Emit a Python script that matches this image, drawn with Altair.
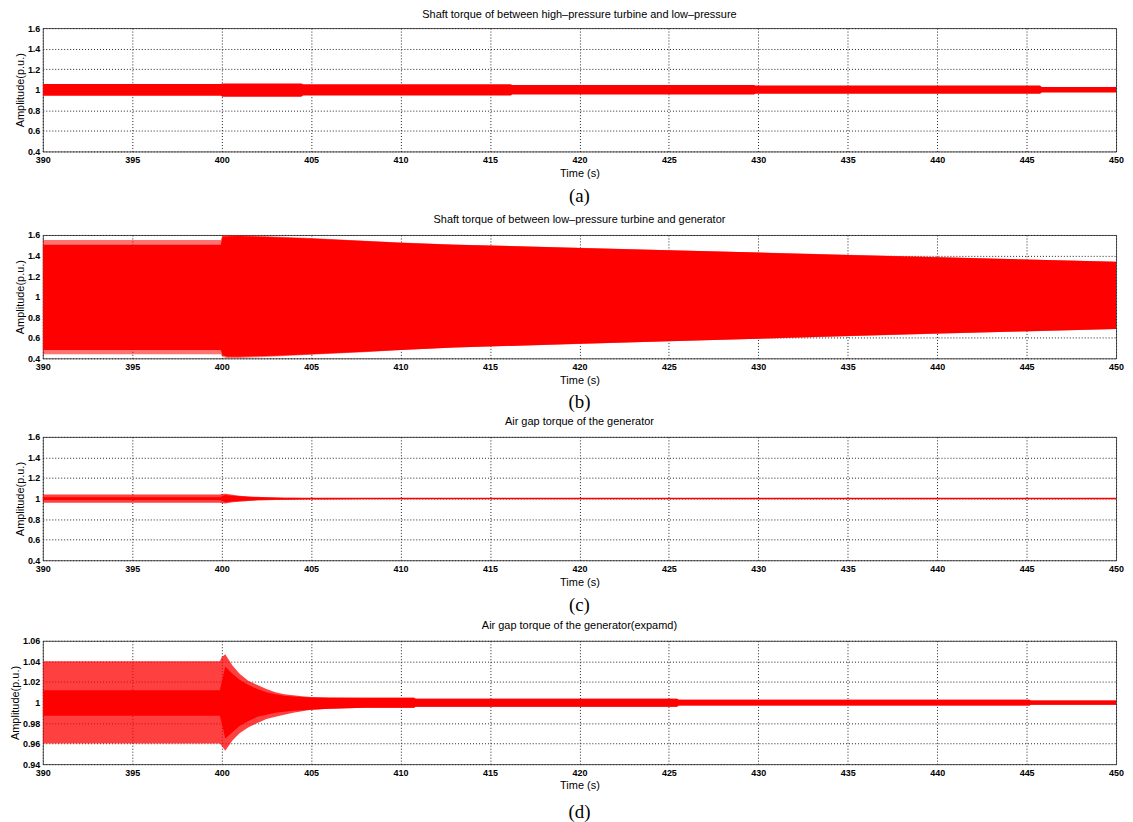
import altair as alt
import pandas as pd

RED = "#ff0000"
FONT = "Liberation Sans"

x_ticks = [390, 395, 400, 405, 410, 415, 420, 425, 430, 435, 440, 445, 450]
y_ticks_full = [0.4, 0.6, 0.8, 1.0, 1.2, 1.4, 1.6]
y_ticks_zoom = [0.94, 0.96, 0.98, 1.0, 1.02, 1.04, 1.06]

titles = [
    "Shaft torque of between high\u2013pressure turbine and low\u2013pressure",
    "Shaft torque of between low\u2013pressure turbine and generator",
    "Air gap torque of the generator",
    "Air gap torque of the generator(expamd)",
]
captions = ["(a)", "(b)", "(c)", "(d)"]

# (a) envelope of HP-LP shaft torque
a_t  = [390, 399.95, 400.05, 404.45, 404.55, 416.15, 416.25, 429.75, 429.85, 445.75, 445.85, 450]
a_hi = [1.055, 1.055, 1.061, 1.061, 1.053, 1.053, 1.047, 1.047, 1.042, 1.042, 1.028, 1.028]
a_lo = [0.942, 0.942, 0.932, 0.932, 0.945, 0.945, 0.953, 0.953, 0.962, 0.962, 0.974, 0.974]

# (b) envelope of LP-generator shaft torque (outer = ripple peaks, inner = ripple troughs)
b_t        = [390, 399.95, 400.05, 400.3, 401, 403, 405, 408, 410, 413, 420, 425, 430, 435, 440, 445, 450]
b_hi_outer = [1.550, 1.550, 1.600, 1.600, 1.600, 1.585, 1.570, 1.545, 1.528, 1.508, 1.475, 1.452, 1.430, 1.407, 1.385, 1.362, 1.340]
b_hi_inner = [1.505, 1.505, 1.585, 1.588, 1.590, 1.578, 1.565, 1.542, 1.525, 1.506, 1.474, 1.451, 1.429, 1.406, 1.384, 1.361, 1.339]
b_lo_outer = [0.440, 0.440, 0.415, 0.400, 0.403, 0.418, 0.435, 0.460, 0.480, 0.505, 0.540, 0.565, 0.590, 0.615, 0.640, 0.662, 0.685]
b_lo_inner = [0.482, 0.482, 0.430, 0.415, 0.415, 0.425, 0.440, 0.463, 0.482, 0.506, 0.541, 0.566, 0.591, 0.616, 0.641, 0.663, 0.686]

# (c)/(d) air gap torque envelope (outer = spike tips, core = dense part)
g_t        = [390, 399.9, 400.0, 400.2, 400.6, 401, 401.5, 402, 402.5, 403, 403.5, 404, 404.5, 405, 406, 408, 410.75, 410.85, 425.45, 425.55, 445.15, 445.25, 450]
g_hi_outer = [1.040, 1.040, 1.044, 1.047, 1.036, 1.028, 1.021, 1.017, 1.013, 1.010, 1.008, 1.007, 1.006, 1.0052, 1.0048, 1.0045, 1.0045, 1.0036, 1.0036, 1.0026, 1.0026, 1.0019, 1.0019]
g_lo_outer = [0.960, 0.960, 0.958, 0.953, 0.963, 0.970, 0.976, 0.980, 0.984, 0.986, 0.988, 0.990, 0.9915, 0.993, 0.994, 0.9948, 0.9948, 0.9958, 0.9958, 0.9971, 0.9971, 0.9977, 0.9977]
g_hi_core  = [1.012, 1.012, 1.020, 1.035, 1.028, 1.022, 1.017, 1.013, 1.010, 1.008, 1.0065, 1.0058, 1.0052, 1.0048, 1.0046, 1.0045, 1.0045, 1.0036, 1.0036, 1.0026, 1.0026, 1.0019, 1.0019]
g_lo_core  = [0.987, 0.987, 0.980, 0.965, 0.971, 0.977, 0.982, 0.986, 0.988, 0.990, 0.991, 0.992, 0.9925, 0.993, 0.994, 0.9948, 0.9948, 0.9958, 0.9958, 0.9971, 0.9971, 0.9977, 0.9977]
c_line_t = [390, 450]
c_line_v = [1.0, 1.0]

W = 1079
H = 124


def base_x():
    return alt.X(
        "t:Q",
        scale=alt.Scale(domain=[390, 450], nice=False, zero=False),
        axis=alt.Axis(values=x_ticks, format="d", title="Time (s)", labelFlush=False),
    )


def base_y(field, ticks, dom):
    return alt.Y(
        f"{field}:Q",
        scale=alt.Scale(domain=dom, nice=False, zero=False),
        axis=alt.Axis(values=ticks, format="~g", title="Amplitude(p.u.)", labelFlush=False),
    )


def band(df, hi, lo, ticks, dom, opacity=1.0):
    return alt.Chart(df).mark_area(color=RED, opacity=opacity, clip=True).encode(
        x=base_x(), y=base_y(hi, ticks, dom), y2=f"{lo}:Q"
    )


def title(text, offset=6):
    return alt.TitleParams(text, font=FONT, fontSize=11, fontWeight="normal",
                           color="black", anchor="middle", offset=offset)


def caption(label, height, ty):
    df = pd.DataFrame({"c": [label]})
    return alt.Chart(df).mark_text(font="Liberation Serif", fontSize=19, color="black").encode(
        x=alt.value(W / 2), y=alt.value(ty), text="c:N"
    ).properties(width=W, height=height, view=alt.ViewBackground(stroke="transparent"))


df_a = pd.DataFrame({"t": a_t, "hi": a_hi, "lo": a_lo})
df_b = pd.DataFrame({"t": b_t, "ho": b_hi_outer, "hin": b_hi_inner, "lo": b_lo_outer, "lin": b_lo_inner})
df_g = pd.DataFrame({"t": g_t, "ho": g_hi_outer, "lo": g_lo_outer, "hc": g_hi_core, "lc": g_lo_core})
df_c = pd.DataFrame({"t": c_line_t, "v": c_line_v})

dom_full = [0.4, 1.6]
dom_zoom = [0.94, 1.06]

pa = band(df_a, "hi", "lo", y_ticks_full, dom_full).properties(
    width=W, height=H, title=title(titles[0], offset=4))

pb = alt.layer(
    band(df_b, "ho", "lo", y_ticks_full, dom_full, 0.55),
    band(df_b, "hin", "lin", y_ticks_full, dom_full),
).properties(width=W, height=H, title=title(titles[1]))

pc = alt.layer(
    band(df_g, "ho", "lo", y_ticks_full, dom_full, 0.75),
    band(df_g, "hc", "lc", y_ticks_full, dom_full),
    alt.Chart(df_c).mark_line(color=RED, strokeWidth=1.4).encode(
        x=base_x(), y=base_y("v", y_ticks_full, dom_full)
    ),
).properties(width=W, height=H, title=title(titles[2]))

pd_ = alt.layer(
    band(df_g, "ho", "lo", y_ticks_zoom, dom_zoom, 0.75),
    band(df_g, "hc", "lc", y_ticks_zoom, dom_zoom),
).properties(width=W, height=H, title=title(titles[3]))

chart = alt.vconcat(
    pa, caption(captions[0], 32, 16),
    pb, caption(captions[1], 27, 15),
    pc, caption(captions[2], 29, 16),
    pd_, caption(captions[3], 30, 19),
    spacing=0,
).properties(padding={"left": 0, "top": -2, "right": 0, "bottom": 0}).configure_view(
    stroke="#555555", strokeWidth=1
).configure_axis(
    labelFont=FONT, labelFontSize=9, labelFontWeight="bold", labelColor="black",
    titleFont=FONT, titleFontSize=11, titleFontWeight="normal", titleColor="black",
    grid=True, gridColor="#222222", gridDash=[1, 2], gridWidth=1, gridOpacity=1,
    ticks=False, domain=False,
).configure_axisY(titlePadding=2, labelPadding=3).configure_axisX(titlePadding=3, labelPadding=4)

chart.save("out.html", embed_options={"renderer": "svg", "actions": False})
